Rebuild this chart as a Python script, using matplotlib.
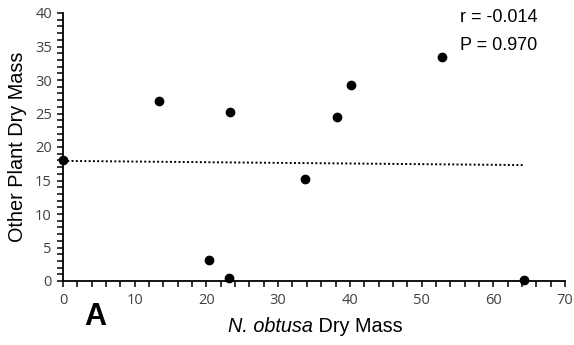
import numpy as np
import matplotlib
matplotlib.use("Agg")
import matplotlib.pyplot as plt
from matplotlib.ticker import MultipleLocator

x_vals = [0.0, 13.4, 23.3, 20.3, 23.2, 33.7, 38.2, 40.1, 52.9, 64.3]
y_vals = [18.0, 26.9, 25.2, 3.1, 0.5, 15.2, 24.5, 29.3, 33.4, 0.15]
r_text = "r = -0.014"
p_text = "P = 0.970"
panel_label = "A"
xlabel_italic = "N. obtusa"
xlabel_rest = " Dry Mass"
ylabel = "Other Plant Dry Mass"

W, H = 574, 345
fig = plt.figure(figsize=(W / 100, H / 100), dpi=100)
ax = fig.add_axes([63 / W, 1 - 281 / H, (565 - 63) / W, (281 - 13) / H])

ax.scatter(x_vals, y_vals, s=36, color="black", zorder=3, clip_on=False)

slope, intercept = np.polyfit(x_vals, y_vals, 1)
xl = np.array([min(x_vals), max(x_vals)])
ax.plot(xl, intercept + slope * xl, color="black", lw=1.4, linestyle=(0, (1, 1.2)))

ax.set_xlim(0, 70)
ax.set_ylim(0, 40)
ax.xaxis.set_major_locator(MultipleLocator(10))
ax.xaxis.set_minor_locator(MultipleLocator(2))
ax.yaxis.set_major_locator(MultipleLocator(5))
ax.yaxis.set_minor_locator(MultipleLocator(1))
for s in ["top", "right"]:
    ax.spines[s].set_visible(False)
for s in ["left", "bottom"]:
    ax.spines[s].set_linewidth(1.3)
ax.tick_params(which="both", direction="out", length=4, width=1.1, color="black",
               labelsize=10.5, labelcolor="#404040")
ax.tick_params(axis="x", pad=5)
ax.tick_params(axis="y", pad=4)
for lab in ax.get_xticklabels() + ax.get_yticklabels():
    lab.set_fontfamily("Open Sans")

fig.text(537 / W, 1 - 18 / H, r_text, ha="right", va="center", fontsize=13,
         family="Liberation Sans", color="black")
fig.text(537 / W, 1 - 45 / H, p_text, ha="right", va="center", fontsize=13,
         family="Liberation Sans", color="black")

fig.text(18 / W, 1 - 147 / H, ylabel, rotation=90, ha="center",
         va="center", fontsize=14.3, family="Liberation Sans", color="black")

# x label: italic part + regular part, centred together
renderer = fig.canvas.get_renderer()
t1 = fig.text(0, 1 - 326 / H, xlabel_italic, ha="left", va="center", fontsize=14.3,
              family="Liberation Sans", style="italic", color="black")
t2 = fig.text(0, 1 - 326 / H, xlabel_rest, ha="left", va="center", fontsize=14.3,
              family="Liberation Sans", color="black")
w1 = t1.get_window_extent(renderer).width
w2 = t2.get_window_extent(renderer).width
x0 = 315 - (w1 + w2) / 2
t1.set_x(x0 / W)
t2.set_x((x0 + w1) / W)

fig.text(95 / W, 1 - 317 / H, panel_label, ha="center", va="center", fontsize=22,
         fontweight="bold", family="Liberation Sans", color="black")

fig.savefig("out.png", dpi=100)
